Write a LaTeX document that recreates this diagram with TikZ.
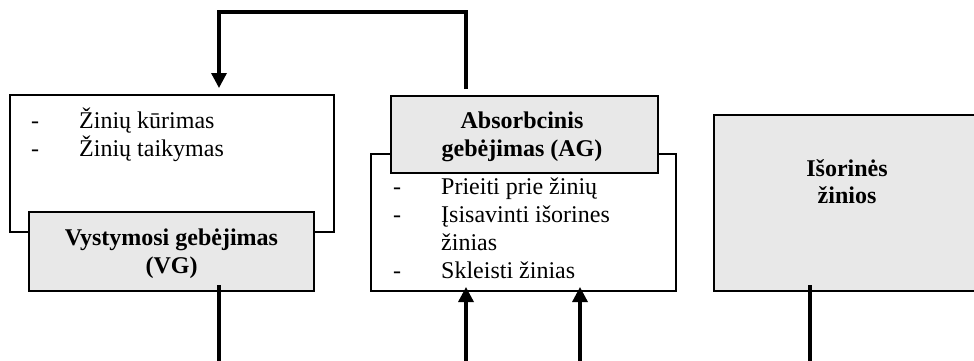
\documentclass[tikz,border=0pt]{standalone}
\usepackage{fontspec}
\setmainfont{Liberation Serif}
\usetikzlibrary{arrows.meta}
\definecolor{boxgrey}{RGB}{232,232,232}
\begin{document}
\begin{tikzpicture}[x=1pt,y=-1pt,
  wbox/.style={draw=black,line width=2.6pt,fill=white,inner sep=0pt,outer sep=0pt,rectangle},
  gbox/.style={draw=black,line width=2.6pt,fill=boxgrey,inner sep=0pt,outer sep=0pt,rectangle},
  conn/.style={line width=3.3pt},
  tipin/.style={-{Triangle[width=15pt,length=15pt]}},
  txt/.style={font=\fontsize{24}{27.6}\selectfont,inner sep=0pt},
  btxt/.style={font=\fontsize{24}{27.6}\selectfont\bfseries,inner sep=0pt}]
\useasboundingbox (0,0) rectangle (974,361);

% boxes
\node[wbox,minimum width=324pt,minimum height=137pt] (lw) at (172,163.5) {};
\node[gbox,minimum width=285pt,minimum height=79pt] (vg) at (171.5,251.5) {};
\node[wbox,minimum width=305pt,minimum height=137pt] (aw) at (523.5,222.5) {};
\node[gbox,minimum width=267pt,minimum height=77pt] (ag) at (524.5,134.5) {};
\node[gbox,minimum width=266pt,minimum height=176pt] (iso) at (847,203) {};

% texts left list
\node[txt,anchor=base west] (d1) at (31,128) {-};
\node[txt,anchor=base west] (t1) at (79,128) {Žinių kūrimas};
\node[txt,anchor=base west] (d2) at (31,156) {-};
\node[txt,anchor=base west] (t2) at (79,156) {Žinių taikymas};

% VG title
\node[btxt,anchor=base] (vg1) at (171.5,245) {Vystymosi gebėjimas};
\node[btxt,anchor=base] (vg2) at (171.5,273) {(VG)};

% AG title
\node[btxt,anchor=base] (ag1) at (522,128) {Absorbcinis};
\node[btxt,anchor=base] (ag2) at (522,156) {gebėjimas (AG)};

% AG list
\node[txt,anchor=base west] (d3) at (393,194) {-};
\node[txt,anchor=base west] (a1) at (441,194) {Prieiti prie žinių};
\node[txt,anchor=base west] (d4) at (393,222) {-};
\node[txt,anchor=base west] (a2) at (441,222) {Įsisavinti išorines};
\node[txt,anchor=base west] (a3) at (441,250) {žinias};
\node[txt,anchor=base west] (d5) at (393,278) {-};
\node[txt,anchor=base west] (a4) at (441,278) {Skleisti žinias};

% Išorinės žinios
\node[btxt,anchor=base] (is1) at (847,176) {Išorinės};
\node[btxt,anchor=base] (is2) at (847,203) {žinios};

% connector coordinates
\coordinate (agout) at (466,89);
\coordinate (lwin) at (219,88);
\coordinate (topy) at (0,12);
\coordinate (vgout) at (219,285);
\coordinate (isoout) at (810,285);
\coordinate (awin1) at (466,287);
\coordinate (awin2) at (580,287);
\coordinate (boty) at (0,362.3);

\draw[conn,tipin] (agout) -- (agout |- topy) -| (lwin);
\draw[conn,tipin] (vgout) -- (vgout |- boty) -| (awin1);
\draw[conn,tipin] (isoout) -- (isoout |- boty) -| (awin2);
\end{tikzpicture}
\end{document}
